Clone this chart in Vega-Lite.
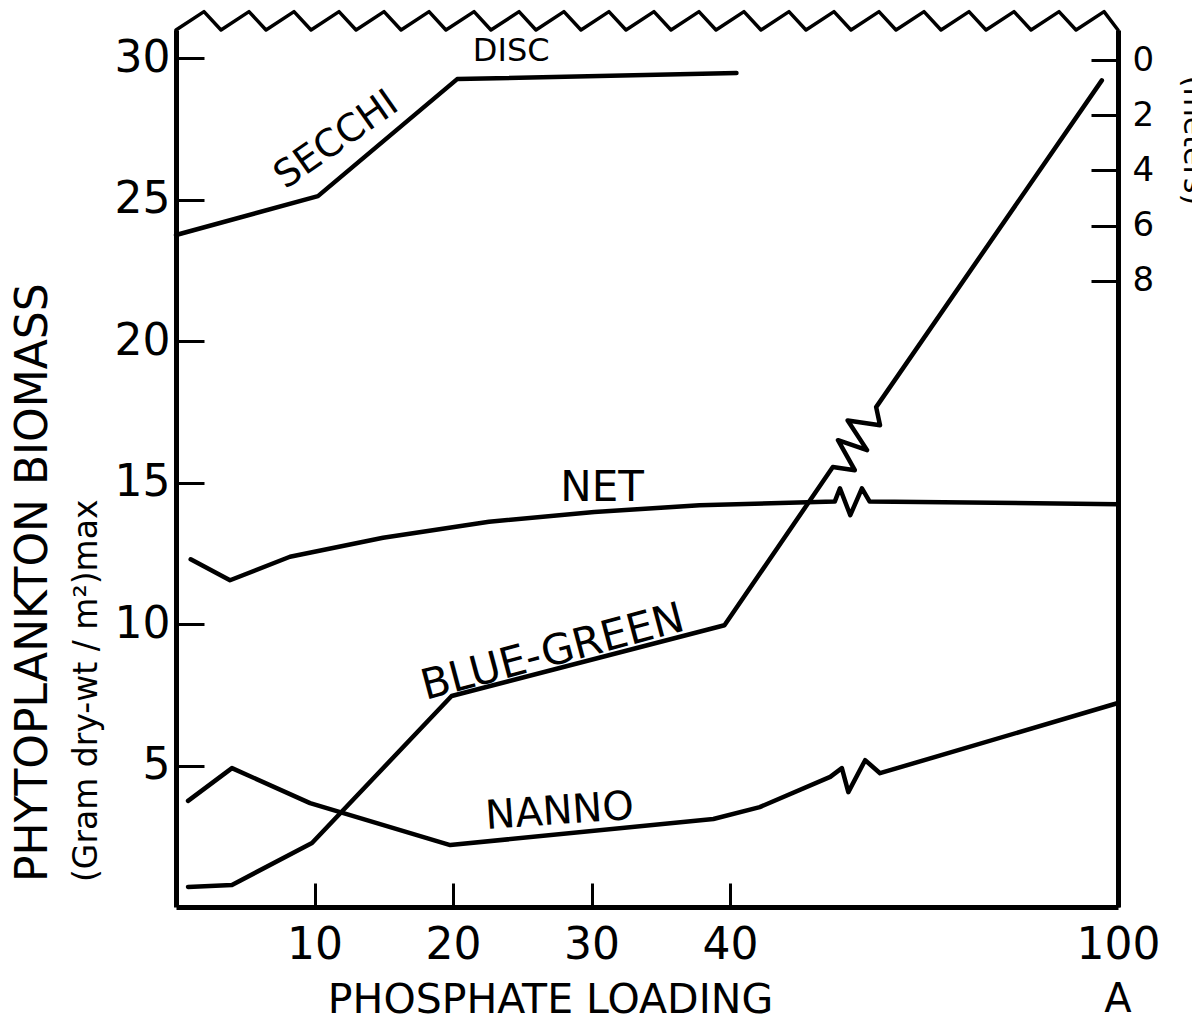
{
  "$schema": "https://vega.github.io/schema/vega-lite/v6.json",
  "width": 942,
  "height": 877,
  "autosize": {"type": "none"},
  "padding": {"left": 176, "top": 30, "right": 74, "bottom": 114},
  "background": "white",
  "config": {"view": {"stroke": null}, "font": "DejaVu Sans", "axis": {"grid": false}},
  "title": {
    "text": "PHYTOPLANKTON BIOMASS",
    "subtitle": "(Gram dry-wt / m²)max",
    "orient": "left",
    "anchor": "start",
    "frame": "group",
    "font": "DejaVu Sans",
    "fontSize": 44,
    "fontWeight": "normal",
    "color": "black",
    "subtitleFont": "DejaVu Sans",
    "subtitleFontSize": 33,
    "subtitleColor": "black",
    "subtitlePadding": 15,
    "offset": 10,
    "dx": 25
  },
  "datasets": {
    "series": [
      {"series": "NET", "x": 1.06, "v": 12.29},
      {"series": "NET", "x": 3.9, "v": 11.55},
      {"series": "NET", "x": 8.23, "v": 12.38},
      {"series": "NET", "x": 14.95, "v": 13.05},
      {"series": "NET", "x": 22.6, "v": 13.62},
      {"series": "NET", "x": 30.2, "v": 13.96},
      {"series": "NET", "x": 37.8, "v": 14.2},
      {"series": "NET", "x": 56.2, "v": 14.33},
      {"series": "NET", "x": 57.0, "v": 14.8},
      {"series": "NET", "x": 58.6, "v": 13.85},
      {"series": "NET", "x": 60.4, "v": 14.8},
      {"series": "NET", "x": 61.6, "v": 14.33},
      {"series": "NET", "x": 100, "v": 14.24},
      {"series": "BLUE-GREEN", "x": 0.87, "v": 0.71},
      {"series": "BLUE-GREEN", "x": 4.04, "v": 0.78},
      {"series": "BLUE-GREEN", "x": 9.82, "v": 2.26},
      {"series": "BLUE-GREEN", "x": 19.9, "v": 7.46},
      {"series": "BLUE-GREEN", "x": 39.6, "v": 9.96},
      {"series": "BLUE-GREEN", "x": 55.9, "v": 15.55},
      {"series": "BLUE-GREEN", "x": 59.3, "v": 15.44},
      {"series": "BLUE-GREEN", "x": 56.7, "v": 16.5},
      {"series": "BLUE-GREEN", "x": 61.2, "v": 16.15},
      {"series": "BLUE-GREEN", "x": 58.2, "v": 17.2},
      {"series": "BLUE-GREEN", "x": 63.2, "v": 17.03},
      {"series": "BLUE-GREEN", "x": 62.6, "v": 17.67},
      {"series": "BLUE-GREEN", "x": 97.5, "v": 29.22},
      {"series": "NANNO", "x": 0.87, "v": 3.75},
      {"series": "NANNO", "x": 4.04, "v": 4.91},
      {"series": "NANNO", "x": 9.68, "v": 3.67},
      {"series": "NANNO", "x": 19.8, "v": 2.19},
      {"series": "NANNO", "x": 38.8, "v": 3.11},
      {"series": "NANNO", "x": 44.6, "v": 3.53},
      {"series": "NANNO", "x": 55.5, "v": 4.6},
      {"series": "NANNO", "x": 57.3, "v": 4.91},
      {"series": "NANNO", "x": 58.3, "v": 4.06},
      {"series": "NANNO", "x": 60.9, "v": 5.19},
      {"series": "NANNO", "x": 63.2, "v": 4.73},
      {"series": "NANNO", "x": 100, "v": 7.21}
    ],
    "secchi": [
      {"x": 0, "d": 6.34},
      {"x": 10.25, "d": 4.93},
      {"x": 20.3, "d": 0.69},
      {"x": 41, "d": 0.47}
    ],
    "wave": [
      {"x": 0, "v": 31.0}, {"x": 2.02, "v": 31.65}, {"x": 3.25, "v": 31.0}, {"x": 5.27, "v": 31.65},
      {"x": 6.5, "v": 31.0}, {"x": 8.52, "v": 31.65}, {"x": 9.75, "v": 31.0}, {"x": 11.77, "v": 31.65},
      {"x": 13.0, "v": 31.0}, {"x": 15.02, "v": 31.65}, {"x": 16.25, "v": 31.0}, {"x": 18.27, "v": 31.65},
      {"x": 19.49, "v": 31.0}, {"x": 21.52, "v": 31.65}, {"x": 22.74, "v": 31.0}, {"x": 24.77, "v": 31.65},
      {"x": 25.99, "v": 31.0}, {"x": 28.01, "v": 31.65}, {"x": 29.24, "v": 31.0}, {"x": 31.26, "v": 31.65},
      {"x": 32.49, "v": 31.0}, {"x": 34.51, "v": 31.65}, {"x": 35.74, "v": 31.0}, {"x": 37.76, "v": 31.65},
      {"x": 38.99, "v": 31.0}, {"x": 42.16, "v": 31.65}, {"x": 44.79, "v": 31.0}, {"x": 49.12, "v": 31.65},
      {"x": 51.75, "v": 31.0}, {"x": 56.08, "v": 31.65}, {"x": 58.71, "v": 31.0}, {"x": 63.04, "v": 31.65},
      {"x": 65.67, "v": 31.0}, {"x": 70.0, "v": 31.65}, {"x": 72.63, "v": 31.0}, {"x": 76.96, "v": 31.65},
      {"x": 79.59, "v": 31.0}, {"x": 83.92, "v": 31.65}, {"x": 86.55, "v": 31.0}, {"x": 90.88, "v": 31.65},
      {"x": 93.51, "v": 31.0}, {"x": 97.84, "v": 31.65}, {"x": 100, "v": 31.0}
    ],
    "labels": [
      {"label": "SECCHI", "x": 11.6, "v": 27.1},
      {"label": "DISC", "x": 24.2, "v": 30.25},
      {"label": "NET", "x": 30.76, "v": 14.8},
      {"label": "BLUE-GREEN", "x": 27.2, "v": 9.0},
      {"label": "NANNO", "x": 27.7, "v": 3.36},
      {"label": "A", "x": 100, "v": -3.29}
    ]
  },
  "encoding": {
    "x": {
      "field": "x",
      "type": "quantitative",
      "scale": {"domain": [0, 40, 100], "range": [0, 554, 942], "nice": false, "zero": false},
      "axis": {
        "orient": "bottom",
        "values": [10, 20, 30, 40, 100],
        "format": "d",
        "tickSize": -24,
        "tickWidth": 3,
        "tickColor": "black",
        "domainColor": "black",
        "domainWidth": 5,
        "labelFont": "DejaVu Sans",
        "labelFontSize": 44,
        "labelColor": "black",
        "labelPadding": 40,
        "labelFlush": false,
        "labelOverlap": false,
        "title": "PHOSPHATE LOADING",
        "titleFont": "DejaVu Sans",
        "titleFontSize": 41,
        "titleFontWeight": "normal",
        "titleColor": "black",
        "titleX": 374,
        "titleY": 93,
        "titleBaseline": "middle",
        "titleAlign": "center",
        "grid": false
      }
    }
  },
  "layer": [
    {
      "encoding": {
        "y": {
          "field": "v",
          "type": "quantitative",
          "scale": {"domain": [0, 31], "nice": false, "zero": false},
          "axis": {
            "orient": "left",
            "values": [5, 10, 15, 20, 25, 30],
            "tickSize": -28,
            "tickWidth": 3,
            "tickColor": "black",
            "domainColor": "black",
            "domainWidth": 5,
            "labelFont": "DejaVu Sans",
            "labelFontSize": 44,
            "labelColor": "black",
            "labelPadding": 34,
            "labelFlush": false,
            "title": null,
            "grid": false
          }
        }
      },
      "layer": [
        {
          "data": {"name": "wave"},
          "mark": {"type": "line", "stroke": "black", "strokeWidth": 3.5, "strokeJoin": "round", "strokeCap": "round"},
          "encoding": {"order": {"value": null}}
        },
        {
          "data": {"name": "series"},
          "mark": {"type": "line", "stroke": "black", "strokeWidth": 4.5, "strokeJoin": "round", "strokeCap": "round"},
          "encoding": {"detail": {"field": "series"}, "order": {"value": null}}
        },
        {
          "data": {"name": "labels"},
          "transform": [{"filter": "datum.label === 'SECCHI'"}],
          "mark": {"type": "text", "angle": 325, "fontSize": 38, "font": "DejaVu Sans", "fill": "black"},
          "encoding": {"text": {"field": "label"}}
        },
        {
          "data": {"name": "labels"},
          "transform": [{"filter": "datum.label === 'DISC'"}],
          "mark": {"type": "text", "fontSize": 32, "font": "DejaVu Sans", "fill": "black"},
          "encoding": {"text": {"field": "label"}}
        },
        {
          "data": {"name": "labels"},
          "transform": [{"filter": "datum.label === 'NET'"}],
          "mark": {"type": "text", "fontSize": 42, "font": "DejaVu Sans", "fill": "black"},
          "encoding": {"text": {"field": "label"}}
        },
        {
          "data": {"name": "labels"},
          "transform": [{"filter": "datum.label === 'BLUE-GREEN'"}],
          "mark": {"type": "text", "angle": 345, "fontSize": 42, "font": "DejaVu Sans", "fill": "black"},
          "encoding": {"text": {"field": "label"}}
        },
        {
          "data": {"name": "labels"},
          "transform": [{"filter": "datum.label === 'NANNO'"}],
          "mark": {"type": "text", "angle": 356, "fontSize": 40, "font": "DejaVu Sans", "fill": "black"},
          "encoding": {"text": {"field": "label"}}
        },
        {
          "data": {"name": "labels"},
          "transform": [{"filter": "datum.label === 'A'"}],
          "mark": {"type": "text", "fontSize": 40, "font": "DejaVu Sans", "fill": "black"},
          "encoding": {"text": {"field": "label"}}
        }
      ]
    },
    {
      "data": {"name": "secchi"},
      "mark": {"type": "line", "stroke": "black", "strokeWidth": 4.5, "strokeJoin": "round", "strokeCap": "round"},
      "encoding": {
        "order": {"value": null},
        "y": {
          "field": "d",
          "type": "quantitative",
          "scale": {"domain": [-1.09, 30.69], "reverse": true, "nice": false, "zero": false},
          "axis": {
            "orient": "right",
            "values": [0, 2, 4, 6, 8],
            "tickSize": -27,
            "tickWidth": 3,
            "tickColor": "black",
            "domainColor": "black",
            "domainWidth": 5,
            "labelFont": "DejaVu Sans",
            "labelFontSize": 34,
            "labelColor": "black",
            "labelPadding": 41,
            "labelFlush": false,
            "title": "(meters)",
            "titleFont": "DejaVu Sans",
            "titleFontSize": 30,
            "titleFontWeight": "normal",
            "titleColor": "black",
            "titleAngle": 90,
            "titleX": 74,
            "titleY": 110,
            "titleBaseline": "middle",
            "grid": false
          }
        }
      }
    }
  ],
  "resolve": {"scale": {"y": "independent"}}
}
